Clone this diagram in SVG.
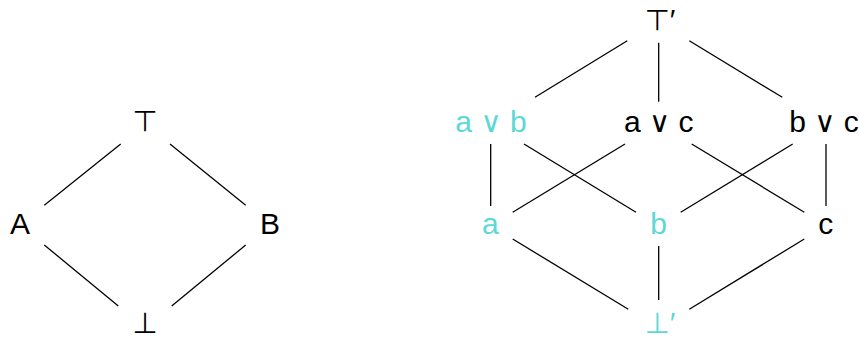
<svg xmlns="http://www.w3.org/2000/svg" width="859" height="339" viewBox="0 0 859 339">
<style>
text{font-family:"Liberation Sans","DejaVu Sans",sans-serif;font-size:30px;text-anchor:middle;fill:#000}
.c{fill:#5cd8d8}
.s{font-family:"DejaVu Sans",sans-serif;font-size:29px}
line{stroke:#000;stroke-width:1.3}
</style>
<rect width="859" height="339" fill="#fff"/>
<g id="connectors">
<line x1="120.7" y1="144" x2="44.3" y2="205.3"/>
<line x1="170" y1="144" x2="245.7" y2="205.3"/>
<line x1="44.3" y1="245" x2="118.3" y2="306"/>
<line x1="245.7" y1="245" x2="171.7" y2="306"/>
<line x1="627.3" y1="40.7" x2="535" y2="97.3"/>
<line x1="658.7" y1="42.7" x2="658.7" y2="101.7"/>
<line x1="689.3" y1="40.7" x2="782.3" y2="97.3"/>
<line x1="490.7" y1="144" x2="490.7" y2="206"/>
<line x1="524" y1="144" x2="636" y2="212.3"/>
<line x1="625" y1="144" x2="512.7" y2="212.3"/>
<line x1="691.7" y1="144" x2="804.3" y2="212.3"/>
<line x1="792.7" y1="144" x2="680.7" y2="212.3"/>
<line x1="826" y1="144" x2="826" y2="206"/>
<line x1="512.7" y1="239" x2="628.3" y2="309.3"/>
<line x1="658.7" y1="246" x2="658.7" y2="300"/>
<line x1="804.3" y1="239" x2="689.3" y2="309.3"/>
</g>
<g id="top"><text class="s" x="145" y="131">⊤</text></g>
<g id="A"><text x="20" y="234">A</text></g>
<g id="B"><text x="270" y="234">B</text></g>
<g id="bottom"><text class="s" x="145" y="333">⊥</text></g>
<g id="top2"><text x="660" y="30"><tspan class="s">⊤</tspan>′</text></g>
<g id="avb"><text class="c" x="491" y="132">a <tspan class="s">∨</tspan> b</text></g>
<g id="avc"><text x="658.7" y="132">a <tspan class="s">∨</tspan> c</text></g>
<g id="bvc"><text x="824" y="132">b <tspan class="s">∨</tspan> c</text></g>
<g id="a"><text class="c" x="490.3" y="234">a</text></g>
<g id="b"><text class="c" x="658.7" y="234">b</text></g>
<g id="c"><text x="825.7" y="234">c</text></g>
<g id="bottom2"><text class="c" x="660" y="333"><tspan class="s">⊥</tspan>′</text></g>
</svg>
